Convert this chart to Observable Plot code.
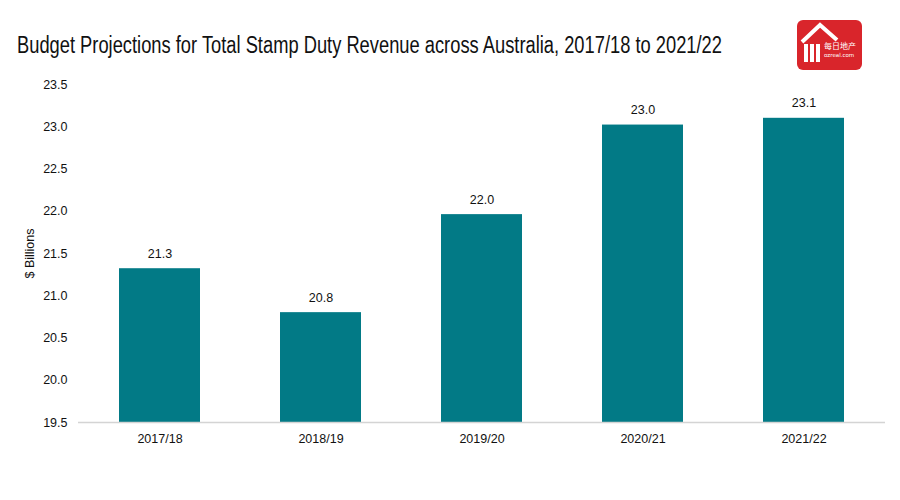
<!DOCTYPE html>
<html>
<head>
<meta charset="utf-8">
<script src="https://cdn.jsdelivr.net/npm/d3@7"></script>
<script src="https://cdn.jsdelivr.net/npm/@observablehq/plot@0.6"></script>
<style>
  html, body { margin: 0; padding: 0; background: #fff; }
  #wrap { position: relative; width: 900px; height: 500px; overflow: hidden; }
  #title { height: 70px; box-sizing: border-box; padding: 32px 0 0 17px; white-space: nowrap; }
  #title span { display: inline-block; transform-origin: 0 50%; font-family: "Liberation Sans", Arial, sans-serif; font-size: 23px; color: #111; line-height: 26px; }
  #logo { position: absolute; left: 797px; top: 20px; width: 65px; height: 50px; background: #d9252b; border-radius: 6px; }
  #logo .t1 { position: absolute; left: 27px; top: 22px; font-family: "Noto Sans CJK SC", sans-serif; font-size: 8px; color: #fff; line-height: 1; white-space: nowrap; }
  #logo .t2 { position: absolute; left: 27px; top: 33px; font-family: "DejaVu Sans", sans-serif; font-size: 5.5px; color: #fff; line-height: 1; white-space: nowrap; }
  #logo svg { position: absolute; left: 0; top: 0; }
</style>
</head>
<body>
<div id="wrap">
  <div id="title"><span id="titleText">Budget Projections for Total Stamp Duty Revenue across Australia, 2017/18 to 2021/22</span></div>
  <div id="logo">
    <svg width="65" height="50"><path d="M5 22 L23 5 L40 20" fill="none" stroke="#fff" stroke-width="4"/><rect x="7" y="24" width="4" height="18" fill="#fff"/><rect x="13" y="24" width="4" height="18" fill="#fff"/><rect x="19" y="24" width="4" height="18" fill="#fff"/></svg>
    <div class="t1">每日地产</div>
    <div class="t2">ozreal.com</div>
  </div>
  <div id="chart"></div>
</div>
<script>
const years = ["2017/18", "2018/19", "2019/20", "2020/21", "2021/22"];
const revenue = [21.32, 20.8, 21.96, 23.02, 23.1];
const valueLabels = ["21.3", "20.8", "22.0", "23.0", "23.1"];
const yTicks = [19.5, 20.0, 20.5, 21.0, 21.5, 22.0, 22.5, 23.0, 23.5];

const data = years.map((y, i) => ({year: y, value: revenue[i], label: valueLabels[i]}));
const fontFam = '"Liberation Sans", Arial, sans-serif';

const chart = Plot.plot({
  width: 900,
  height: 430,
  marginTop: 14,
  marginBottom: 78,
  marginLeft: 78,
  marginRight: 15,
  style: {fontFamily: fontFam, fontSize: "12.5px", color: "#111", background: "#fff"},
  x: {domain: years, paddingInner: 0.5, paddingOuter: 0.25, label: null},
  y: {domain: [yTicks[0], yTicks[yTicks.length - 1]], label: null},
  marks: [
    Plot.barY(data, {x: "year", y1: yTicks[0], y2: "value", fill: "#027a86"}),
    Plot.ruleY([yTicks[0]], {stroke: "#d4d4d4", strokeWidth: 1.5}),
    Plot.text(data, {x: "year", y: "value", text: "label", dy: -15, fontSize: 12.5, fill: "#111"}),
    Plot.axisY({ticks: yTicks, tickFormat: d3.format(".1f"), tickSize: 0, tickPadding: 11, label: "$ Billions", labelAnchor: "center", labelOffset: 53, labelArrow: "none", fontSize: 12.5}),
    Plot.axisX({tickSize: 0, tickPadding: 12, label: null, fontSize: 12.5})
  ]
});
document.getElementById("chart").appendChild(chart);

const t = document.getElementById("titleText");
const w = t.getBoundingClientRect().width;
t.style.transform = `scaleX(${705 / w})`;
</script>
</body>
</html>
